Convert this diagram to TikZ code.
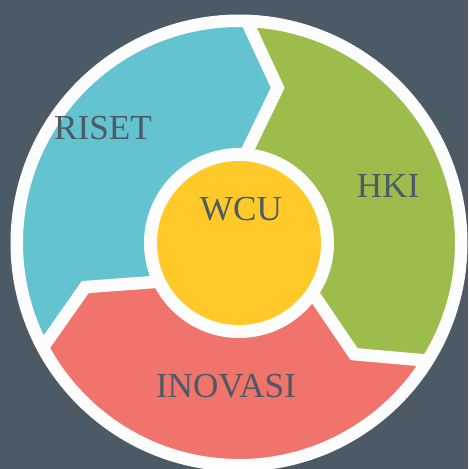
\documentclass[tikz,border=0pt]{standalone}
\usepackage{fontspec}
\setmainfont{Liberation Serif}
\usetikzlibrary{calc}
\definecolor{slate}{HTML}{4B5A64}
\definecolor{riset}{HTML}{63C3D0}
\definecolor{hki}{HTML}{9CBD4B}
\definecolor{inovasi}{HTML}{F0736C}
\definecolor{wcu}{HTML}{FFCA29}
\definecolor{paper}{HTML}{FDFDFD}
\def\ringpart[#1](#2:#3){\fill[#1] (#2:222) arc[start angle=#2, end angle=#3, radius=222] -- (#3-12:160) -- (#3-2:88) arc[start angle=#3-2, end angle=#2-2, radius=88] -- (#2-12:160) -- cycle;}
\tikzset{
	gap/.style={draw=paper, line width=0.375cm, line join=miter},
	lbl/.style={text=slate, anchor=base, font=\fontsize{30}{33}\selectfont}
}

\begin{document}
\begin{tikzpicture}[scale=0.03]
		%%%%% START %%%%%
		
		\useasboundingbox (-239, -226) rectangle (229, 243);
		\clip (-239, -226) rectangle (229, 243);
		\fill[slate] (-239, -226) rectangle (229, 243);
		
		\ringpart[riset](208:88);
		\ringpart[hki](88:-32);
		\ringpart[inovasi](-32:-152);
		
		\foreach \a in {88,-32,208}
			\draw[gap] (\a:222) -- (\a-12:160) -- (\a-2:88);
		
		\draw[paper, line width=0.375cm] (0, 0) circle (222.25);
		
		\fill[paper] (0, 0) circle (95);
		\fill[wcu] (0, 0) circle (82);
		
		\node[lbl] (lriset) at (-136, 104) {RISET};
		\node[lbl] (lhki) at (149, 46) {HKI};
		\node[lbl] (lwcu) at (2, 23) {WCU};
		\node[lbl] (linovasi) at (-13, -154) {INOVASI};
		
		%%%%% END %%%%%
	\end{tikzpicture}
\end{document}
